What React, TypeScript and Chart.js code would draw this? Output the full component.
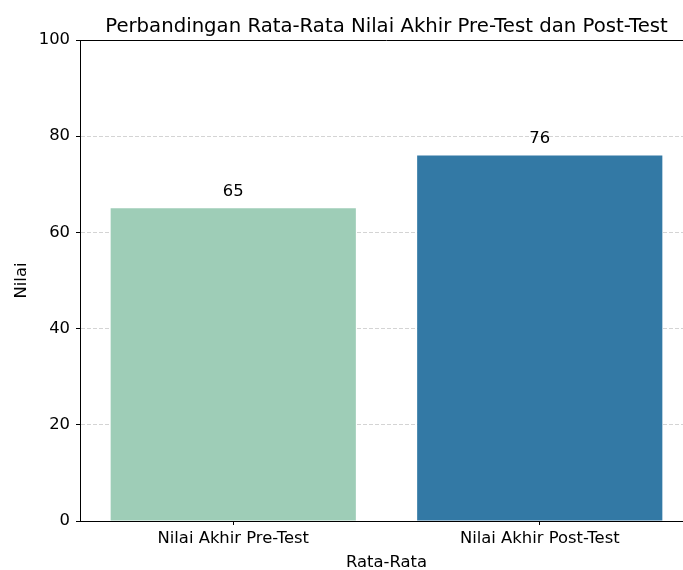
import React, { useEffect, useRef } from "react";
import { Chart, registerables } from "chart.js";

Chart.register(...registerables);

const TITLE = "Perbandingan Rata-Rata Nilai Akhir Pre-Test dan Post-Test";
const categories = ["Nilai Akhir Pre-Test", "Nilai Akhir Post-Test"];
const values = [65, 76];
const barColors = ["#9ecdb7", "#3379a5"];
const yTitle = "Nilai";
const xTitle = "Rata-Rata";
const yMin = 0;
const yMax = 100;
const yStep = 20;

const FONT = '"DejaVu Sans", sans-serif';
const FS = 16.4;
const TFS = 19.7;

export default function App() {
  const ref = useRef<HTMLCanvasElement | null>(null);

  useEffect(() => {
    if (!ref.current) return;
    const annot = {
      id: "annot",
      afterDatasetsDraw(chart: any) {
        const ctx = chart.ctx;
        const meta = chart.getDatasetMeta(0);
        const { left, right, top } = chart.chartArea;
        ctx.save();
        ctx.fillStyle = "#000";
        ctx.textAlign = "center";
        ctx.textBaseline = "alphabetic";
        ctx.font = `${FS}px ${FONT}`;
        meta.data.forEach((el: any, i: number) => {
          ctx.fillText(String(Math.round(values[i])), el.x, el.y - 12);
        });
        ctx.strokeStyle = "#000";
        ctx.lineWidth = 1;
        ctx.beginPath();
        ctx.moveTo(left, Math.round(top) + 0.5);
        ctx.lineTo(right, Math.round(top) + 0.5);
        ctx.stroke();
        ctx.font = `${TFS}px ${FONT}`;
        ctx.fillText(TITLE, (left + right) / 2, 31.5);
        ctx.restore();
      },
    };

    const chart = new Chart(ref.current, {
      type: "bar",
      data: {
        labels: categories,
        datasets: [
          {
            data: values,
            backgroundColor: barColors,
            borderWidth: 0,
            categoryPercentage: 1,
            barPercentage: 0.8,
          },
        ],
      },
      options: {
        responsive: false,
        animation: false,
        devicePixelRatio: 1,
        layout: { padding: { top: 40, left: 0, right: 0, bottom: 0 } },
        plugins: {
          legend: { display: false },
          tooltip: { enabled: false },
          title: { display: false },
        },
        scales: {
          x: {
            offset: true,
            afterFit: (s: any) => {
              s.height = 49;
            },
            grid: {
              offset: false,
              drawOnChartArea: false,
              drawTicks: true,
              tickLength: 4,
              tickColor: "#000",
              tickWidth: 1,
            },
            border: { display: true, color: "#000", width: 1 },
            ticks: {
              color: "#000",
              font: { family: FONT, size: FS },
              padding: 4,
              maxRotation: 0,
            },
            title: {
              display: true,
              text: xTitle,
              color: "#000",
              font: { family: FONT, size: FS, lineHeight: 1 },
              padding: { top: 0, bottom: -1 },
            },
          },
          y: {
            min: yMin,
            max: yMax,
            afterFit: (s: any) => {
              s.width = 80;
            },
            ticks: {
              stepSize: yStep,
              color: "#000",
              font: { family: FONT, size: FS },
              padding: 6,
            },
            grid: {
              drawOnChartArea: true,
              drawTicks: true,
              tickLength: 4,
              tickColor: "#000",
              tickWidth: 1,
              tickBorderDash: [],
              lineWidth: 1,
              color: (ctx: any) =>
                ctx.tick && (ctx.tick.value === yMin || ctx.tick.value === yMax)
                  ? "rgba(0,0,0,0)"
                  : "rgba(170,170,170,0.5)",
            },
            border: { display: true, color: "#000", width: 1, dash: [4, 2] },
            title: {
              display: true,
              text: yTitle,
              color: "#000",
              font: { family: FONT, size: FS },
              padding: { top: 12, bottom: 0 },
            },
          },
        },
      },
      plugins: [annot],
    });
    return () => chart.destroy();
  }, []);

  return (
    <div
      style={{
        position: "absolute",
        left: 0,
        top: 0,
        width: 683,
        height: 570,
        overflow: "hidden",
        background: "#fff",
      }}
    >
      <canvas ref={ref} width={693} height={570} style={{ display: "block" }} />
    </div>
  );
}
